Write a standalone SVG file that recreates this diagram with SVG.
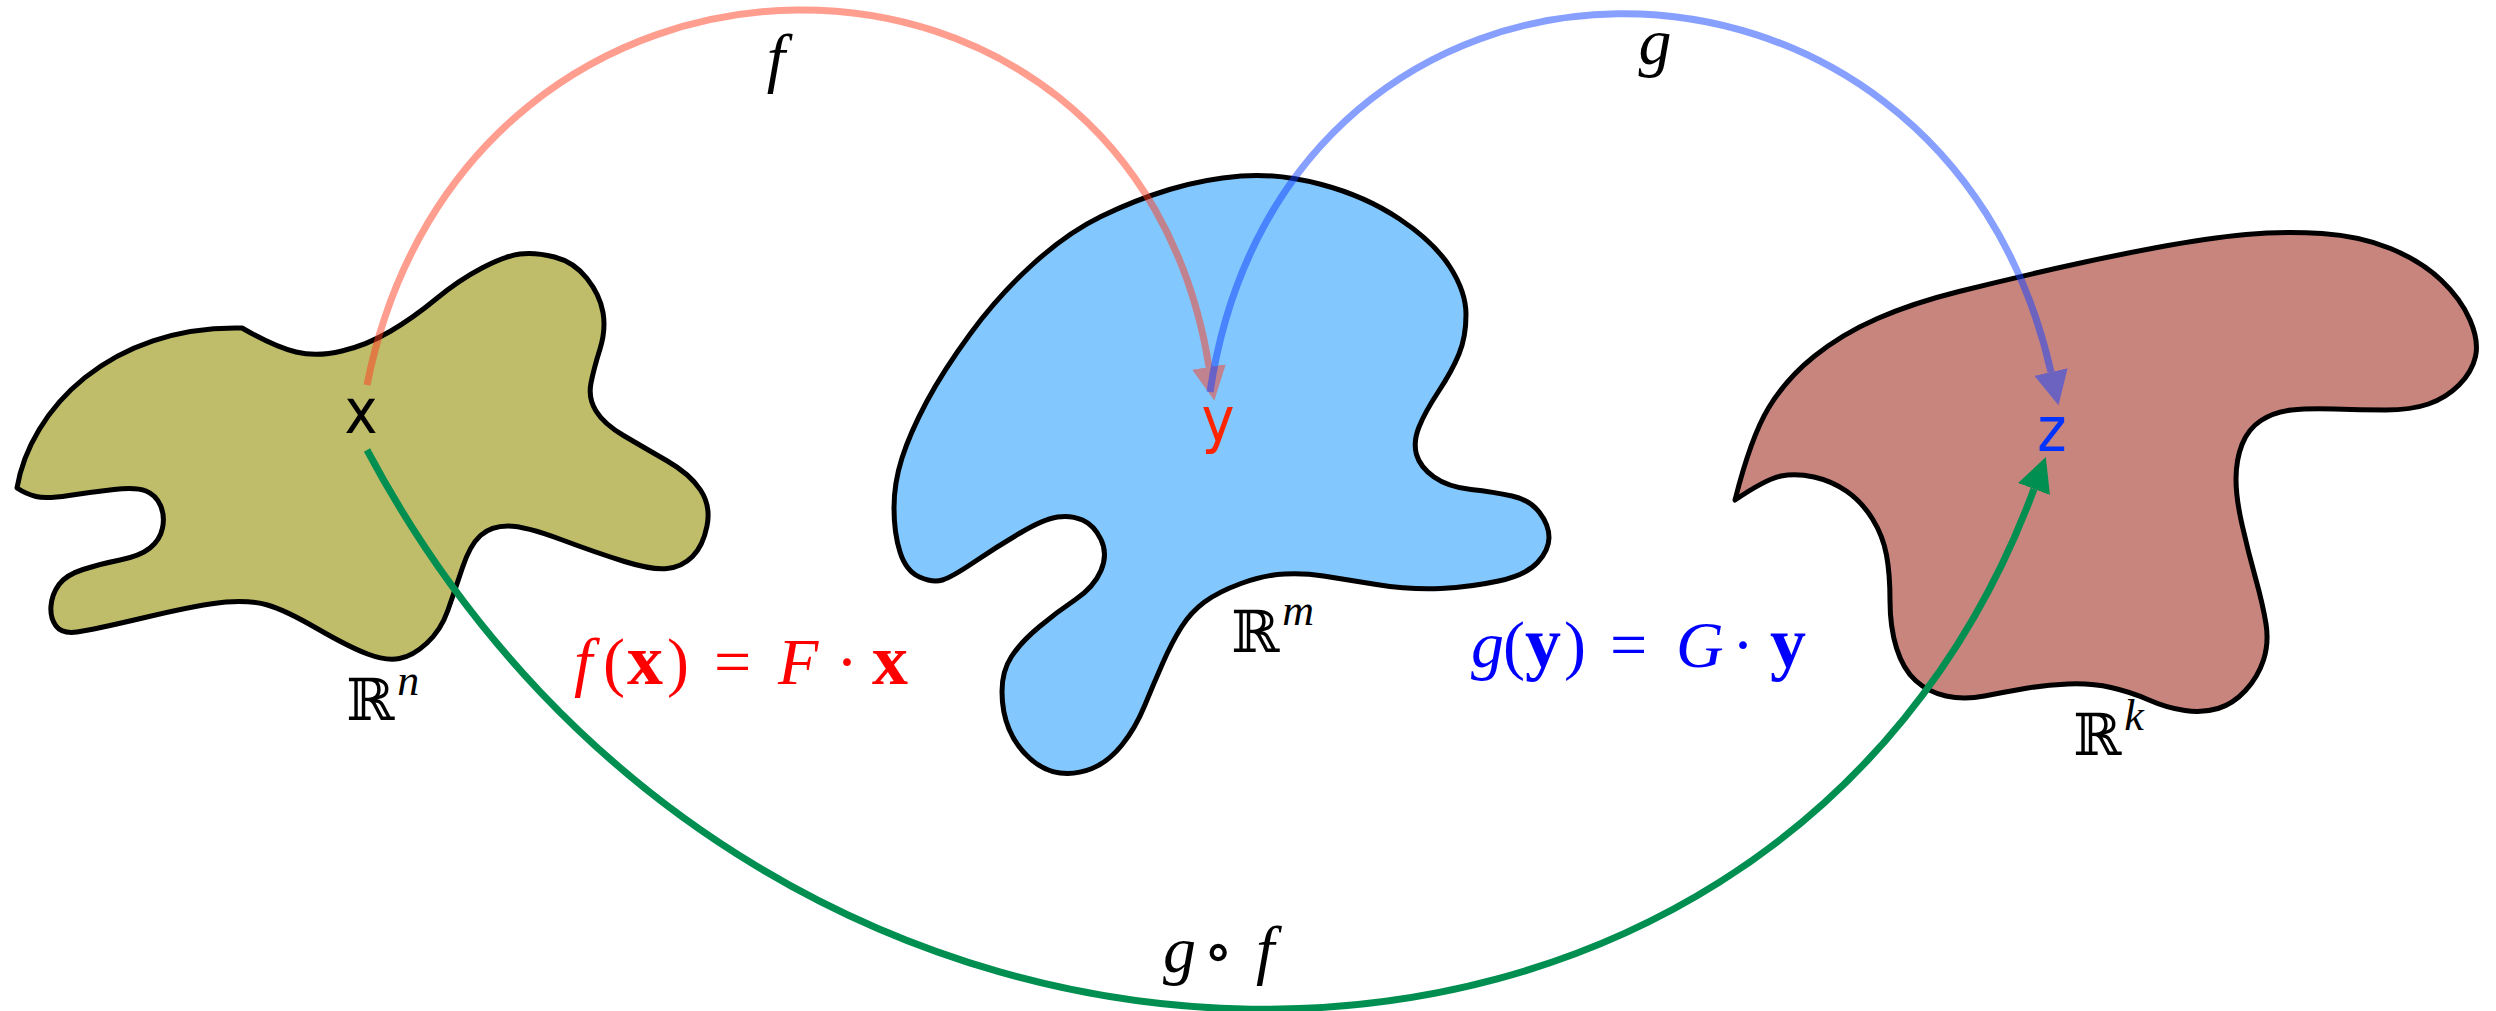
<svg xmlns="http://www.w3.org/2000/svg" width="2496" height="1011" viewBox="0 0 2496 1011">
<style>
.blob{stroke:#000;stroke-width:5;stroke-linejoin:round}
.arc{fill:none;stroke-width:7;stroke-linecap:butt}
.math{font-family:'Liberation Serif','DejaVu Serif',serif;font-size:66px}
.it{font-style:italic}
.bf{font-weight:bold;font-style:normal;font-size:72px}
.op{font-family:'DejaVu Serif',serif;font-size:62px}
.bb{font-family:'DejaVu Serif',serif;font-style:normal;font-size:58px}
.sup{font-family:'Liberation Serif',serif;font-style:italic;font-size:44px}
.pt{font-family:'DejaVu Sans Condensed','DejaVu Sans',sans-serif;font-stretch:condensed;font-size:62px;text-anchor:middle}
</style>
<defs>
<marker id="ah-red" markerUnits="userSpaceOnUse" markerWidth="34" markerHeight="34" viewBox="0 0 34 34" refX="0" refY="17" orient="auto"><path d="M0,0 L34,17 L0,34 Z" fill="#FF3B1F" fill-opacity="0.5"/></marker>
<marker id="ah-blue" markerUnits="userSpaceOnUse" markerWidth="34" markerHeight="34" viewBox="0 0 34 34" refX="0" refY="17" orient="auto"><path d="M0,0 L34,17 L0,34 Z" fill="#1040FF" fill-opacity="0.5"/></marker>
<marker id="ah-green" markerUnits="userSpaceOnUse" markerWidth="34" markerHeight="34" viewBox="0 0 34 34" refX="0" refY="17" orient="auto"><path d="M0,0 L34,17 L0,34 Z" fill="#008F50"/></marker>
</defs>
<rect width="2496" height="1011" fill="#fff"/>

<g id="node-Rn">
<path class="blob" fill="#BFBC6A" d="M242,328 Q275,347 296,352 Q317,357 342,351 Q367,345 390,331.5 Q413,318 436,299 Q459,280 482,268 Q505,256 520,254 Q535,252 554.5,257 Q574,262 587,278.5 Q600,295 603,312.5 Q606,330 600,349 Q594,368 591,383 Q588,398 596,411 Q604,424 623.5,435.5 Q643,447 666.5,460.5 Q690,474 700.5,490 Q711,506 707,526 Q703,546 692.5,556.5 Q682,567 667,568.5 Q652,570 624.5,561.5 Q597,553 561,539.5 Q525,526 508,526 Q491,526 480.5,535.5 Q470,545 462.5,567.5 Q455,590 448,610 Q441,630 427,643 Q413,656 399.5,658.5 Q386,661 367.5,654 Q349,647 317,628.5 Q285,610 267.5,605 Q250,600 226,602 Q202,604 147,617 Q92,630 77,632 Q62,634 56,626 Q50,618 51,606 Q52,594 59,584.5 Q66,575 83,569.5 Q100,564 120,560 Q140,556 150,548 Q160,540 162.5,528 Q165,516 160.5,505.5 Q156,495 146,491 Q136,487 114,489.5 Q92,492 69,495.5 Q46,499 36,496.5 Q26,494 17,488 C30,410 110,325 242,328 Z"/>
<text class="pt" x="361" y="433" fill="#000">x</text>
<text x="346" y="720"><tspan class="bb">ℝ</tspan><tspan class="sup" dx="3" dy="-25">n</tspan></text>
</g>

<g id="node-Rm">
<path class="blob" fill="#82C8FE" d="M1241,176 Q1278,173 1321.5,184.5 Q1365,196 1399.5,219 Q1434,242 1450,267 Q1466,292 1466,314.5 Q1466,337 1459,354 Q1452,371 1438.5,391.5 Q1425,412 1419,427 Q1413,442 1416.5,454.5 Q1420,467 1434,477 Q1448,487 1471,489.5 Q1494,492 1512,496 Q1530,500 1539.5,512.5 Q1549,525 1549,537.5 Q1549,550 1537.5,562.5 Q1526,575 1498.5,581 Q1471,587 1441,588.5 Q1411,590 1376.5,584.5 Q1342,579 1323.5,576 Q1305,573 1284.5,574 Q1264,575 1241,583.5 Q1218,592 1204.5,602 Q1191,612 1181.5,627 Q1172,642 1163,662.5 Q1154,683 1144.5,706 Q1135,729 1121.5,745.5 Q1108,762 1092,768.5 Q1076,775 1060,773 Q1044,771 1030,758.5 Q1016,746 1009,729 Q1002,712 1002,691.5 Q1002,671 1011.5,656.5 Q1021,642 1039,627 Q1057,612 1075.5,599.5 Q1094,587 1101,570.5 Q1108,554 1101,539.5 Q1094,525 1082.5,520 Q1071,515 1057.5,517 Q1044,519 1021,532.5 Q998,546 975,561.5 Q952,577 942.5,580 Q933,583 919.5,577 Q906,571 900,552 Q894,533 894,508 Q894,483 902,458 Q910,433 926.5,402 Q943,371 970.5,333.5 Q998,296 1032.5,264.5 Q1067,233 1101,216.5 Q1135,200 1169.5,189.5 Q1204,179 1241,176 Z"/>
<text class="pt" x="1218" y="441" fill="#FF2400">y</text>
<text x="1231" y="652"><tspan class="bb">ℝ</tspan><tspan class="sup" dx="3" dy="-27">m</tspan></text>
</g>

<g id="node-Rk">
<path class="blob" fill="#C8857E" d="M1735,500 Q1751,437 1768.5,408 Q1786,379 1814,356.5 Q1842,334 1877.5,318.5 Q1913,303 1959,291.5 Q2005,280 2055.5,268.5 Q2106,257 2157,247.5 Q2208,238 2246,234.5 Q2284,231 2322,233.5 Q2360,236 2390.5,248.5 Q2421,261 2441,280 Q2461,299 2470,320 Q2479,341 2475.5,356.5 Q2472,372 2459,385 Q2446,398 2428.5,404 Q2411,410 2385.5,410 Q2360,410 2334.5,409 Q2309,408 2291.5,410 Q2274,412 2261,420.5 Q2248,429 2242,444.5 Q2236,460 2236,479 Q2236,498 2242,524.5 Q2248,551 2255.5,578 Q2263,605 2266,624 Q2269,643 2263.5,660 Q2258,677 2245.5,690.5 Q2233,704 2218,708.5 Q2203,713 2185,710.5 Q2167,708 2149,700 Q2131,692 2111,687.5 Q2091,683 2068,684 Q2045,685 2025,688.5 Q2005,692 1984.5,696 Q1964,700 1946,696 Q1928,692 1915.5,680.5 Q1903,669 1896.5,648 Q1890,627 1890,600.5 Q1890,574 1886.5,555 Q1883,536 1872.5,519 Q1862,502 1847,491.5 Q1832,481 1814,477 Q1796,473 1781,476 Q1766,479 1735,500 Z"/>
<text class="pt" x="2052" y="451" fill="#0033FF">z</text>
<text x="2073" y="755"><tspan class="bb">ℝ</tspan><tspan class="sup" dx="3" dy="-25">k</tspan></text>
</g>

<g id="connectors">
<path id="edge-f" class="arc" stroke="#FF3B1F" stroke-opacity="0.5" marker-end="url(#ah-red)" d="M367,385 C466,-112 1133,-112 1209,367"/>
<path id="edge-g" class="arc" stroke="#1040FF" stroke-opacity="0.5" marker-end="url(#ah-blue)" d="M1210,392 C1285,-109 1942,-109 2051,372"/>
<path id="edge-gf" class="arc" stroke="#008F50" marker-end="url(#ah-green)" d="M367,450 C760,1189 1775,1189 2034,489"/>
<text class="math it" x="776" y="80" text-anchor="middle">f</text>
<text class="math it" x="1655" y="64" text-anchor="middle">g</text>
<text class="math" y="972"><tspan class="it" x="1163">g</tspan><tspan class="op" x="1203">∘</tspan><tspan class="it" x="1256">f</tspan></text>
<text class="math" y="684" fill="#FF0000"><tspan class="it" x="574">f</tspan><tspan x="603">(</tspan><tspan class="bf" x="627">x</tspan><tspan x="667">)</tspan><tspan x="714">=</tspan><tspan class="it" x="778">F</tspan><tspan x="836">·</tspan><tspan class="bf" x="872">x</tspan></text>
<text class="math" y="667" fill="#0000FF"><tspan class="it" x="1471">g</tspan><tspan x="1503">(</tspan><tspan class="bf" x="1525">y</tspan><tspan x="1564">)</tspan><tspan x="1610">=</tspan><tspan class="it" x="1676">G</tspan><tspan x="1732">·</tspan><tspan class="bf" x="1770">y</tspan></text>
</g>
</svg>
